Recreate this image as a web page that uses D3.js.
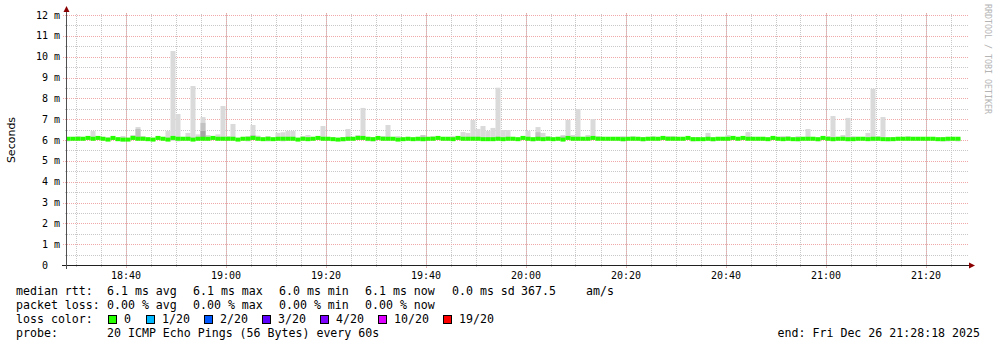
<!DOCTYPE html>
<html>
<head>
<meta charset="utf-8">
<script src="https://cdn.jsdelivr.net/npm/d3@7"></script>
<style>
  body { margin: 0; background: #fff; }
  svg text { font-family: "DejaVu Sans Mono", monospace; fill: #000; }
</style>
</head>
<body>
<svg id="chart" width="997" height="347"></svg>
<script>
// one value per minute, bar j ends at 18:29 + j min
const median = [
  6.06,6.06,6.06,6.06,6.10,6.06,6.10,6.06,6.02,6.10,
  6.04,6.02,6.02,6.10,6.06,6.06,6.04,6.02,6.10,6.06,
  6.02,6.10,6.06,6.06,6.06,6.02,6.06,6.06,6.06,6.10,
  6.06,6.06,6.06,6.06,6.02,6.06,6.06,6.10,6.06,6.04,
  6.06,6.04,6.06,6.06,6.06,6.06,6.02,6.06,6.04,6.06,
  6.10,6.06,6.06,6.04,6.02,6.04,6.06,6.06,6.10,6.10,
  6.06,6.04,6.10,6.06,6.06,6.06,6.02,6.04,6.06,6.04,
  6.06,6.04,6.06,6.06,6.10,6.06,6.06,6.04,6.10,6.06,
  6.06,6.06,6.06,6.04,6.04,6.04,6.06,6.04,6.06,6.06,
  6.04,6.10,6.06,6.04,6.06,6.04,6.06,6.04,6.06,6.02,
  6.10,6.06,6.06,6.06,6.06,6.10,6.06,6.06,6.06,6.06,
  6.06,6.04,6.06,6.06,6.06,6.04,6.06,6.06,6.06,6.10,
  6.06,6.06,6.06,6.06,6.10,6.04,6.04,6.04,6.06,6.04,
  6.06,6.06,6.06,6.10,6.06,6.10,6.06,6.06,6.06,6.06,
  6.04,6.10,6.06,6.04,6.06,6.04,6.04,6.06,6.06,6.06,
  6.04,6.10,6.06,6.04,6.06,6.06,6.04,6.04,6.06,6.06,
  6.04,6.06,6.06,6.04,6.04,6.04,6.06,6.06,6.06,6.06,
  6.06,6.06,6.06,6.06,6.04,6.04,6.06,6.06,6.06
];

const smokeHi = [
  6.14,6.09,6.19,6.09,6.16,6.43,6.14,6.09,6.13,6.09,
  6.09,6.19,6.09,6.24,6.62,6.19,6.08,6.04,6.14,6.13,
  6.43,10.27,7.25,6.08,6.34,8.59,6.27,7.10,6.24,6.13,
  6.27,7.63,6.19,6.77,6.08,6.14,6.19,6.72,6.21,6.08,
  6.19,6.08,6.34,6.37,6.43,6.43,6.08,6.19,6.24,6.14,
  6.19,6.67,6.14,6.13,6.08,6.14,6.53,6.14,6.24,7.54,
  6.14,6.14,6.08,6.19,6.72,6.14,6.19,6.08,6.14,6.08,
  6.14,6.24,6.14,6.19,6.14,6.08,6.14,6.19,6.14,6.38,
  6.34,6.96,6.53,6.67,6.43,6.58,8.51,6.48,6.48,6.14,
  6.08,6.14,6.43,6.08,6.62,6.34,6.19,6.08,6.14,6.24,
  6.96,6.24,7.49,6.08,6.24,7.00,6.19,6.08,6.14,6.14,
  6.14,6.19,6.08,6.19,6.08,6.14,6.10,6.19,6.08,6.14,
  6.19,6.19,6.08,6.08,6.13,6.14,6.14,6.08,6.34,6.08,
  6.14,6.14,6.24,6.19,6.08,6.14,6.38,6.14,6.14,6.14,
  6.08,6.14,6.08,6.19,6.19,6.08,6.19,6.14,6.53,6.14,
  6.08,6.14,6.19,7.15,6.08,6.24,7.06,6.19,6.14,6.14,
  6.34,8.46,6.19,7.10,6.08,6.14,6.08,6.08,6.19,6.14,
  6.14,6.14,6.08,6.14,6.08,6.14,6.14,6.08,6.08
];

const smokeLo = [
  5.93,6.00,6.00,6.00,6.00,6.00,6.00,6.00,6.00,6.00,
  6.00,5.93,6.00,6.00,6.00,6.00,6.00,6.00,6.00,6.00,
  6.00,5.96,5.93,6.00,6.00,6.00,6.00,6.00,6.00,6.00,
  6.00,6.00,6.00,6.00,6.00,6.00,5.93,6.00,6.00,6.00,
  5.93,6.00,6.00,5.93,6.00,6.00,6.00,6.00,6.00,6.00,
  6.00,6.00,6.00,6.00,6.00,5.93,6.00,6.00,6.00,6.00,
  5.94,5.93,6.00,6.00,6.00,6.00,6.00,6.00,6.00,6.00,
  5.94,5.94,6.00,6.00,6.00,6.00,6.00,6.00,6.00,6.00,
  6.00,6.00,6.00,6.00,6.00,5.95,6.00,5.95,6.00,6.00,
  6.00,6.00,6.00,5.93,6.00,6.00,6.00,6.00,6.00,6.00,
  6.00,6.00,6.00,6.00,6.00,6.00,6.00,6.00,6.00,6.00,
  6.00,5.93,6.00,6.00,6.00,5.93,6.00,6.00,6.00,6.00,
  6.00,6.00,6.00,6.00,6.00,5.93,6.00,6.00,6.00,5.93,
  6.00,6.00,6.00,6.00,6.00,6.00,6.00,6.00,6.00,6.00,
  6.00,6.00,6.00,6.00,6.00,6.00,5.93,6.00,6.00,6.00,
  5.93,6.00,6.00,5.94,6.00,6.00,5.94,6.00,6.00,6.00,
  6.00,5.94,6.00,6.00,5.93,6.00,6.00,6.00,6.00,6.00,
  6.00,6.00,6.00,6.00,6.00,5.93,5.93,6.00,5.93
];

// darker inner smoke bands (bar index, top value)
const midIdx = [14, 27, 37, 71, 94, 99];
const midTop = [6.53, 6.82, 6.24, 6.22, 6.37, 6.18];
const darkIdx = [27, 30, 120, 131, 139];
const darkTop = [6.43, 6.14, 6.13, 6.13, 6.13];

const yTicks = [0, 1, 2, 3, 4, 5, 6, 7, 8, 9, 10, 11, 12];
const yTickLabels = ['0', '1 m', '2 m', '3 m', '4 m', '5 m', '6 m', '7 m', '8 m', '9 m', '10 m', '11 m', '12 m'];

const lossLabels = ['0', '1/20', '2/20', '3/20', '4/20', '10/20', '19/20'];
const lossColors = ['#26ff00', '#00b8ff', '#0059ff', '#5e00ff', '#7e00ff', '#dd00ff', '#ff0000'];
const lossBoxX = [108, 146, 204, 262, 320, 378, 443];

const rttStats = ['6.1 ms avg', '6.1 ms max', '6.0 ms min', '6.1 ms now'];
const lossStats = ['0.00 % avg', '0.00 % max', '0.00 % min', '0.00 % now'];

const startTime = new Date(2025, 11, 26, 18, 28, 18);
const endTime = new Date(2025, 11, 26, 21, 28, 18);
const firstBarEnd = new Date(2025, 11, 26, 18, 29, 0);

const plot = {left: 67, right: 967, top: 15, bottom: 265};

const svg = d3.select('#chart');

const x = d3.scaleTime().domain([startTime, endTime]).range([plot.left, plot.right]);
const y = d3.scaleLinear().domain([0, 12]).range([plot.bottom, plot.top]);

const barEnd = j => new Date(firstBarEnd.getTime() + j * 60000);
const barX0 = j => Math.max(plot.left, x(new Date(barEnd(j).getTime() - 60000)));
const barX1 = j => x(barEnd(j));

// grid
const grid = svg.append('g');
const minorY = d3.range(0.5, 12, 1);
grid.selectAll('.minY').data(minorY).enter().append('line')
  .attr('x1', plot.left - 2).attr('x2', plot.right + 1)
  .attr('y1', d => Math.round(y(d)) + 0.5).attr('y2', d => Math.round(y(d)) + 0.5)
  .attr('stroke', '#c8c8c8').attr('stroke-dasharray', '1,1');

const minorX = x.ticks(d3.timeMinute.every(5));
grid.selectAll('.minX').data(minorX).enter().append('line')
  .attr('x1', d => Math.round(x(d)) + 0.5).attr('x2', d => Math.round(x(d)) + 0.5)
  .attr('y1', plot.bottom + 2).attr('y2', plot.top - 2)
  .attr('stroke', '#c8c8c8').attr('stroke-dasharray', '1,1');

grid.selectAll('.majY').data(yTicks.slice(1)).enter().append('line')
  .attr('x1', plot.left - 4).attr('x2', plot.right + 1)
  .attr('y1', d => Math.round(y(d)) + 0.5).attr('y2', d => Math.round(y(d)) + 0.5)
  .attr('stroke', '#f0a8a8').attr('stroke-dasharray', '1,1');

const majorX = x.ticks(d3.timeMinute.every(20));
grid.selectAll('.majX').data(majorX).enter().append('line')
  .attr('x1', d => Math.round(x(d)) + 0.5).attr('x2', d => Math.round(x(d)) + 0.5)
  .attr('y1', plot.bottom + 3).attr('y2', plot.top - 2)
  .attr('stroke', '#f0a8a8').attr('stroke-dasharray', '1,1');

// smoke
const idx = d3.range(median.length);
const smoke = svg.append('g');
smoke.selectAll('rect.s').data(idx).enter().append('rect')
  .attr('x', barX0).attr('width', j => barX1(j) - barX0(j))
  .attr('y', j => y(smokeHi[j])).attr('height', j => y(smokeLo[j]) - y(smokeHi[j]))
  .attr('fill', '#dadada');

smoke.selectAll('rect.m').data(midIdx).enter().append('rect')
  .attr('x', barX0).attr('width', j => barX1(j) - barX0(j))
  .attr('y', (j, k) => y(midTop[k])).attr('height', (j, k) => y(6.0) - y(midTop[k]))
  .attr('fill', '#c2c2c2');

smoke.selectAll('rect.d').data(darkIdx).enter().append('rect')
  .attr('x', barX0).attr('width', j => barX1(j) - barX0(j))
  .attr('y', (j, k) => y(darkTop[k])).attr('height', (j, k) => y(6.0) - y(darkTop[k]))
  .attr('fill', '#a4a4a4');

// median, coloured by loss (all 0/20 here)
svg.append('g').selectAll('rect').data(idx).enter().append('rect')
  .attr('x', barX0).attr('width', j => barX1(j) - barX0(j))
  .attr('y', j => y(median[j]) - 2).attr('height', 4)
  .attr('fill', lossColors[0]);

// axes
svg.append('line').attr('x1', plot.left - 5).attr('x2', plot.right + 3)
  .attr('y1', plot.bottom + 0.5).attr('y2', plot.bottom + 0.5).attr('stroke', '#202020');
svg.append('line').attr('x1', plot.left - 0.5).attr('x2', plot.left - 0.5)
  .attr('y1', plot.bottom + 4).attr('y2', plot.top - 5).attr('stroke', '#505050');
svg.append('path').attr('d', `M${plot.left - 3.5},${plot.top - 3} L${plot.left - 0.5},${plot.top - 9} L${plot.left + 2.5},${plot.top - 3} Z`)
  .attr('fill', '#8b0000');
svg.append('path').attr('d', `M${plot.right + 2},${plot.bottom - 2.5} L${plot.right + 8},${plot.bottom + 0.5} L${plot.right + 2},${plot.bottom + 3.5} Z`)
  .attr('fill', '#8b0000');

// tick labels
svg.append('g').selectAll('text').data(yTicks).enter().append('text')
  .attr('x', 60).attr('y', d => y(d) + 3.5)
  .attr('text-anchor', 'end').attr('font-size', '10px')
  .style('white-space', 'pre')
  .text((d, i) => i === 0 ? '0  ' : yTickLabels[i]);

const fmt = d3.timeFormat('%H:%M');
svg.append('g').selectAll('text').data(majorX).enter().append('text')
  .attr('x', d => x(d) + 0.5).attr('y', 279)
  .attr('text-anchor', 'middle').attr('font-size', '10px')
  .text(d => fmt(d));

svg.append('text').attr('transform', 'translate(15,140) rotate(-90)')
  .attr('text-anchor', 'middle').attr('font-size', '11px')
  .style('font-family', '"DejaVu Sans", sans-serif')
  .text('Seconds');

svg.append('text').attr('transform', 'translate(985,4) rotate(90)')
  .attr('font-size', '8.3px').style('fill', '#b4b4b4')
  .text('RRDTOOL / TOBI OETIKER');

// legend
const lg = svg.append('g').attr('font-size', '11.6px').style('white-space', 'pre');
const statX = [107, 193, 279, 365];
lg.append('text').attr('x', 16).attr('y', 295).text('median rtt:');
lg.selectAll('.r').data(rttStats).enter().append('text')
  .attr('x', (d, i) => statX[i]).attr('y', 295).text(d => d);
lg.append('text').attr('x', 452).attr('y', 295).text('0.0 ms sd');
lg.append('text').attr('x', 521).attr('y', 295).text('367.5');
lg.append('text').attr('x', 586).attr('y', 295).text('am/s');

lg.append('text').attr('x', 16).attr('y', 309).text('packet loss:');
lg.selectAll('.l').data(lossStats).enter().append('text')
  .attr('x', (d, i) => statX[i]).attr('y', 309).text(d => d);

lg.append('text').attr('x', 16).attr('y', 323).text('loss color:');
lg.selectAll('rect').data(lossColors).enter().append('rect')
  .attr('x', (d, i) => lossBoxX[i] + 0.5).attr('y', 315.5).attr('width', 8).attr('height', 8)
  .attr('fill', d => d).attr('stroke', '#000').attr('stroke-width', 1);
lg.selectAll('.ll').data(lossLabels).enter().append('text')
  .attr('x', (d, i) => lossBoxX[i] + 16).attr('y', 323).text(d => d);

lg.append('text').attr('x', 16).attr('y', 337).text('probe:');
lg.append('text').attr('x', 107).attr('y', 337).text('20 ICMP Echo Pings (56 Bytes) every 60s');
lg.append('text').attr('x', 980).attr('y', 337).attr('text-anchor', 'end').text('end: Fri Dec 26 21:28:18 2025');
</script>
</body>
</html>
